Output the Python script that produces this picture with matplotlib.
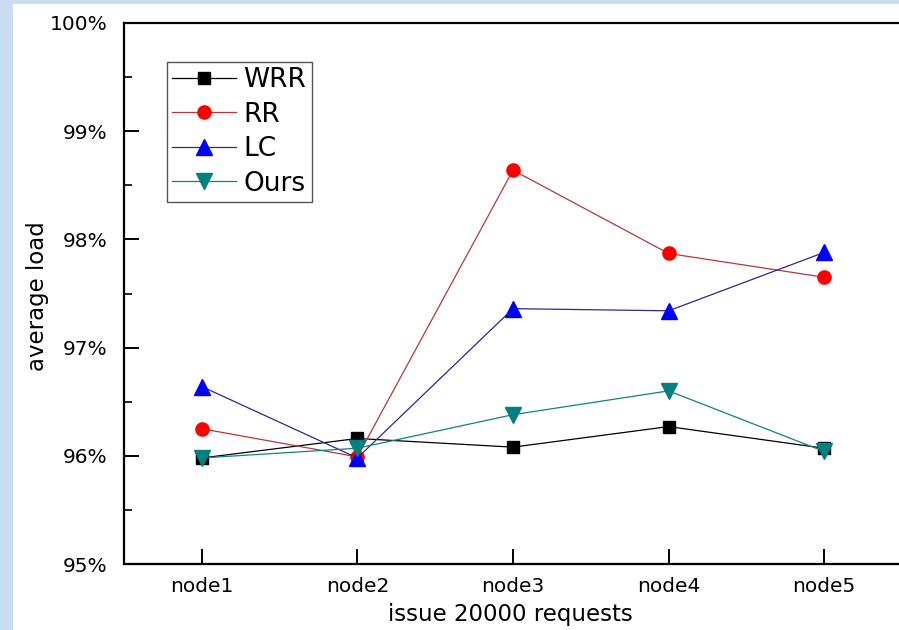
import matplotlib
matplotlib.use("Agg")
import matplotlib.pyplot as plt
from matplotlib.patches import Rectangle
from matplotlib.ticker import MultipleLocator, FuncFormatter

categories = ["node1", "node2", "node3", "node4", "node5"]
wrr = [95.98, 96.16, 96.08, 96.27, 96.07]
rr = [96.25, 95.99, 98.64, 97.87, 97.65]
lc = [96.64, 95.98, 97.36, 97.34, 97.88]
ours = [95.98, 96.07, 96.38, 96.60, 96.04]
series_names = ["WRR", "RR", "LC", "Ours"]

W, H = 899, 630
fig = plt.figure(figsize=(W / 100, H / 100), dpi=100)
fig.patch.set_facecolor("#c9dcf1")
fig.patches.append(Rectangle((13 / W, 0), 1, 1 - 4 / H, transform=fig.transFigure,
                             facecolor="white", edgecolor="none", zorder=-10))

left, right, top, bottom = 124, 902, 23, 564
ax = fig.add_axes([left / W, 1 - bottom / H, (right - left) / W, (bottom - top) / H])
ax.set_facecolor("white")

x = list(range(1, len(categories) + 1))
ax.plot(x, wrr, color="black", lw=0.9, marker="s", ms=8.5, mfc="black", mec="black", label=series_names[0])
ax.plot(x, rr, color="#b03a3a", lw=0.9, marker="o", ms=9.5, mfc="#ff0000", mec="#ff0000", label=series_names[1])
ax.plot(x, lc, color="#2a2a8a", lw=0.9, marker="^", ms=11, mfc="#0000ff", mec="#0000ff", label=series_names[2])
ax.plot(x, ours, color="#138080", lw=0.9, marker="v", ms=11, mfc="#008080", mec="#008080", label=series_names[3])

ax.set_xlim(0.5, 5.5)
ax.set_ylim(95, 100)
ax.set_xticks(x)
ax.set_xticklabels(categories)
ax.yaxis.set_major_locator(MultipleLocator(1))
ax.yaxis.set_minor_locator(MultipleLocator(0.5))
ax.yaxis.set_major_formatter(FuncFormatter(lambda v, p: f"{int(round(v))}%"))

for s in ax.spines.values():
    s.set_linewidth(1.6)
ax.tick_params(axis="both", which="major", direction="in", length=11, width=1.4,
               labelsize=14.5, pad=9)
ax.tick_params(axis="y", which="minor", direction="in", length=6, width=1.2)
ax.tick_params(axis="y", which="major", pad=12)
ax.tick_params(top=False, right=False)

ax.set_xlabel("issue 20000 requests", fontsize=16.5)
ax.set_ylabel("average load", fontsize=16.5)
ax.xaxis.set_label_coords(0.497, -0.072)
ax.yaxis.set_label_coords(-0.097, 0.496)

leg = ax.legend(loc="upper left", bbox_to_anchor=((167 - left) / (right - left), (bottom - 62) / (bottom - top)),
                borderaxespad=0, fontsize=19, frameon=True, fancybox=False,
                handlelength=2.4, handletextpad=0.3, labelspacing=0.32,
                borderpad=0.2, edgecolor="#555555", framealpha=1)
leg.get_frame().set_linewidth(1.0)

fig.savefig("out.png", dpi=100, facecolor=fig.get_facecolor())
